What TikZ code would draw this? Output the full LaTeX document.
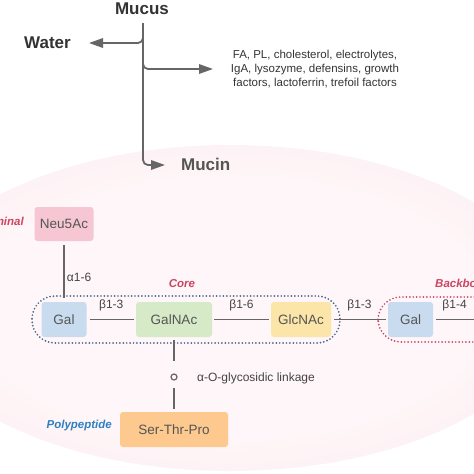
\documentclass[tikz,border=0pt]{standalone}
\usepackage{fontspec}
\setmainfont{Liberation Sans}
\usetikzlibrary{arrows.meta}
\definecolor{linegray}{HTML}{666666}
\definecolor{txtdark}{HTML}{333333}
\definecolor{txtgray}{HTML}{555555}
\definecolor{lblgray}{HTML}{444444}
\definecolor{pinkout}{HTML}{FADBE3}
\definecolor{pinkin}{HTML}{FEF6F8}
\definecolor{neucol}{HTML}{F6C7D2}
\definecolor{galcol}{HTML}{C9DCEF}
\definecolor{galnaccol}{HTML}{D7EAC7}
\definecolor{glccol}{HTML}{FCE5A9}
\definecolor{sercol}{HTML}{FDC98F}
\definecolor{redlab}{HTML}{CC4563}
\definecolor{bluelab}{HTML}{2E80C2}
\definecolor{coredot}{HTML}{46688C}
\definecolor{bbdot}{HTML}{C94A66}
\pgfdeclareradialshading{pinkglow}{\pgfpoint{0bp}{0bp}}{color(0bp)=(pinkin); color(20bp)=(pinkin); color(50bp)=(pinkout)}
\begin{document}
\begin{tikzpicture}[x=1pt,y=-1pt,
 conn/.style={draw=linegray, line width=1.8pt},
 arr/.style={conn, -{Triangle[length=14pt,width=9.5pt]}, rounded corners=5pt},
 box/.style={rounded corners=3pt, inner sep=0pt, text=txtgray, font=\fontsize{13.5}{16}\selectfont},
 lbl/.style={text=lblgray, font=\fontsize{12}{14}\selectfont, inner sep=0pt},
 grp/.style={text=redlab, font=\fontsize{11.5}{14}\selectfont\bfseries\itshape, inner sep=0pt},
 big/.style={font=\fontsize{17}{20}\selectfont\bfseries, inner sep=0pt},
 dotline/.style={line width=1.9pt, line cap=round, dash pattern=on 0pt off 3.4pt, rounded corners=23pt}
]
\useasboundingbox (0,0) rectangle (474,474);
\clip (0,0) rectangle (474,474);
\shade[shading=pinkglow] (230,308) ellipse [x radius=320, y radius=163];

% top part
\node[big, text=txtdark, anchor=base] (mucus) at (142,14) {Mucus};
\node[big, text=txtdark, anchor=base west] (water) at (24,48) {Water};
\node[big, text=txtgray, anchor=base west] (mucin) at (181,170) {Mucin};
\node[text=txtdark, font=\fontsize{11.5}{14}\selectfont, align=center, inner sep=0pt, anchor=north] (comp) at (315,49.5) {FA, PL, cholesterol, electrolytes,\\IgA, lysozyme, defensins, growth\\factors, lactoferrin, trefoil factors};
\coordinate (stemtop) at (143,23);
\coordinate (mucintip) at (165,165);
\coordinate (wstart) at (143,35);
\coordinate (wtip) at (89,43);
\coordinate (cstart) at (143,60);
\coordinate (ctip) at (213,69);
\draw[arr] (stemtop) |- (mucintip);
\draw[arr] (wstart) |- (wtip);
\draw[arr] (cstart) |- (ctip);

% groupings
\draw[coredot, dotline] (32,296) rectangle (340,343);
\draw[bbdot, dotline] (378,297) rectangle (545,342);

% nodes
\node[box, fill=neucol, minimum width=59pt, minimum height=34pt] (neu) at (64,224) {Neu5Ac};
\node[box, fill=galcol, minimum width=45pt, minimum height=35pt] (gal1) at (64,319.5) {Gal};
\node[box, fill=galnaccol, minimum width=76pt, minimum height=35pt] (galnac) at (174,319.5) {GalNAc};
\node[box, fill=glccol, minimum width=60pt, minimum height=35pt] (glcnac) at (301,319.5) {GlcNAc};
\node[box, fill=galcol, minimum width=45pt, minimum height=35pt] (gal2) at (410.5,319.5) {Gal};
\node[box, fill=sercol, minimum width=108pt, minimum height=35pt] (ser) at (174,429.5) {Ser-Thr-Pro};
\node[draw=linegray, circle, line width=1.2pt, minimum size=6pt, inner sep=0pt] (oxy) at (174,377) {};
\coordinate (rightend) at (476,319.5);

% connectors
\draw[conn, shorten <=4pt, shorten >=4pt] (neu) -- node[lbl, pos=0.6, right=2pt] {α1-6} (gal1);
\draw[conn, shorten <=3pt, shorten >=2pt] (gal1) -- node[lbl, above=8pt] {β1-3} (galnac);
\draw[conn, shorten <=2pt, shorten >=2pt] (galnac) -- node[lbl, above=8pt] {β1-6} (glcnac);
\draw[conn, shorten <=3pt, shorten >=2pt] (glcnac) -- node[lbl, above=8pt] {β1-3} (gal2);
\draw[conn, shorten <=3pt] (gal2) -- node[lbl, above=8pt] {β1-4} (rightend);
\draw[conn, shorten <=3pt, shorten >=12pt] (galnac) -- (oxy);
\draw[conn, shorten <=7pt, shorten >=3pt] (oxy) -- (ser);

% labels
\node[lbl, anchor=west] (glyc) at (197,378) {α-O-glycosidic linkage};
\node[grp, text=bluelab, anchor=east] (poly) at (112,426) {Polypeptide};
\node[grp] (core) at (182,284) {Core};
\node[grp, anchor=east] (term) at (24,221) {Terminal};
\node[grp, anchor=west] (bb) at (435,283) {Backbone};
\end{tikzpicture}
\end{document}
